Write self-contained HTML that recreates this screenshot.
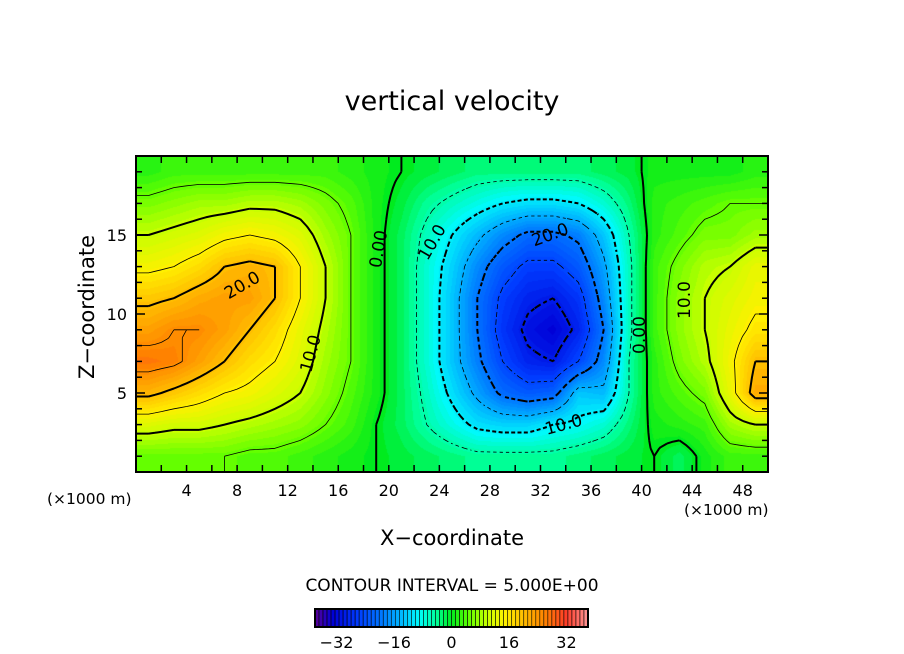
<!DOCTYPE html>
<html><head><meta charset="utf-8"><style>
body{margin:0;background:#fff;width:904px;height:654px;overflow:hidden;position:relative;font-family:"DejaVu Sans","Liberation Sans",sans-serif;}
.t{position:absolute;color:#000;white-space:nowrap}
</style></head><body>
<div class="t" style="left:0;width:904px;text-align:center;top:86px;font-size:27px;">vertical velocity</div>
<div class="t" style="left:22px;top:302px;font-size:21px;transform:rotate(-90deg);width:130px;text-align:center;">Z−coordinate</div>
<div class="t" style="left:0;width:904px;text-align:center;top:526px;font-size:21px;">X−coordinate</div>
<div class="t" style="left:47px;top:490px;font-size:15.5px;">(×1000 m)</div>
<div class="t" style="left:684px;top:501px;font-size:15.5px;">(×1000 m)</div>
<div class="t" style="left:0;width:904px;text-align:center;top:576px;font-size:17px;">CONTOUR INTERVAL = 5.000E+00</div>
<canvas id="cv" width="632" height="316" style="position:absolute;left:136px;top:156px"></canvas>
<svg id="ov" width="904" height="654" style="position:absolute;left:0;top:0"></svg>
<script>
const xCenters=[1,3,5,7,9,11,13,15,17,19,21,23,25,27,29,31,33,35,37,39,41,43,45,47,49];
const zCenters=[19,17,15,13,11,9,7,5,3,1];
const row19=[2,3,3,3,3,3,3,3,2,1,0,-1,-2,-3,-3,-3,-3,-3,-2,-1,1,1,1,1,2];
const row17=[6,7,8,8,9,9,8,6,4,1,-1,-4,-6,-8,-10,-11,-11,-10,-7,-3,2,3,4,5,5];
const row15=[10,11,12,14,15,14,12,8,5,1,-2,-6,-10,-14,-18,-21,-21,-19,-13,-5,2,4,6,6,8];
const row13=[14,15,17,20,21,20,15,10,5,1,-2,-7,-12,-18,-23,-26,-26,-23,-16,-6,3,6,9,10,13];
const row11=[19,20,22,23,23,20,15,10,5,1,-2,-7,-13,-20,-26,-29,-30,-27,-18,-6,3,7,10,12,14];
const row9=[23,25,25,23,20,17,13,9,5,1,-2,-7,-13,-20,-27,-31,-33,-29,-20,-6,3,7,10,13,16];
const row7=[27,26,23,20,17,15,12,8,5,1,-2,-7,-13,-19,-25,-29,-30,-25,-18,-5,2,6,9,14,20];
const row5=[21,19,17,15,14,12,10,7,4,1,-2,-6,-11,-16,-21,-23,-22,-13,-14,-5,2,4,6,13,22];
const row3=[12,11,11,10,9,8,7,5,3,0,-2,-5,-8,-11,-12,-12,-10,-9,-7,-3,1,2,3,8,10];
const row1=[5,5,5,5,4,4,3,2,1,0,-1,-2,-3,-4,-4,-4,-4,-3,-2,-1,0,-2,1,3,3];
const grid=[row19,row17,row15,row13,row11,row9,row7,row5,row3,row1];
const xTicks=[4,8,12,16,20,24,28,32,36,40,44,48];
const zTicks=[5,10,15];
const cbTicks=[-32,-16,0,16,32];
const levels=[-30,-25,-20,-15,-10,-5,0,5,10,15,20,25];

const X0=136,X1=768,Y0=156,Y1=472;
const sx=x=>X0+(x/50)*(X1-X0), sz=z=>Y1-(z/20)*(Y1-Y0);
const stops=[[-38,[90,0,150]],[-33,[0,0,215]],[-26,[0,60,255]],[-20,[0,115,255]],[-14,[0,185,255]],[-9,[0,250,250]],[-4,[0,255,150]],[0,[0,235,30]],[5,[100,255,0]],[10,[200,255,0]],[15,[255,240,0]],[20,[255,190,0]],[26,[255,130,0]],[32,[255,60,40]],[38,[255,150,150]]];
function col(v){if(v<=stops[0][0])return stops[0][1];for(let i=1;i<stops.length;i++){if(v<=stops[i][0]){const a=stops[i-1],b=stops[i],t=(v-a[0])/(b[0]-a[0]);return a[1].map((c,k)=>Math.round(c+(b[1][k]-c)*t));}}return stops[stops.length-1][1];}
function val(x,z){
  let fx=(x-1)/2,fz=(19-z)/2;
  fx=Math.max(0,Math.min(xCenters.length-1,fx));fz=Math.max(0,Math.min(zCenters.length-1,fz));
  const i=Math.min(Math.floor(fx),xCenters.length-2),j=Math.min(Math.floor(fz),zCenters.length-2);
  const tx=fx-i,tz=fz-j;
  return grid[j][i]*(1-tx)*(1-tz)+grid[j][i+1]*tx*(1-tz)+grid[j+1][i]*(1-tx)*tz+grid[j+1][i+1]*tx*tz;
}
const cv=document.getElementById('cv'),ctx=cv.getContext('2d'),img=ctx.createImageData(632,316);
for(let py=0;py<316;py++)for(let px=0;px<632;px++){
  const x=(px+0.5)/632*50,z=20-(py+0.5)/316*20;const v=Math.round(val(x,z));const c=col(v);const o=(py*632+px)*4;
  img.data[o]=c[0];img.data[o+1]=c[1];img.data[o+2]=c[2];img.data[o+3]=255;}
ctx.putImageData(img,0,0);

const NS='http://www.w3.org/2000/svg',ov=document.getElementById('ov');
function mk(tag,attrs,parent){const e=document.createElementNS(NS,tag);for(const k in attrs)e.setAttribute(k,attrs[k]);(parent||ov).appendChild(e);return e;}
const N=100,M=40;const fv=[];
for(let j=0;j<=M;j++){fv.push([]);for(let i=0;i<=N;i++)fv[j].push(val(i/N*50,20-j/M*20));}
levels.forEach(L=>{
  let d='';
  for(let j=0;j<M;j++)for(let i=0;i<N;i++){
    const a=fv[j][i],b=fv[j][i+1],c=fv[j+1][i+1],e=fv[j+1][i];
    const pts=[];
    const ed=(v1,v2,x1,y1,x2,y2)=>{if((v1<L)!==(v2<L)){const t=(L-v1)/(v2-v1);pts.push([x1+(x2-x1)*t,y1+(y2-y1)*t]);}};
    ed(a,b,i,j,i+1,j);ed(b,c,i+1,j,i+1,j+1);ed(c,e,i+1,j+1,i,j+1);ed(e,a,i,j+1,i,j);
    for(let k=0;k+1<pts.length;k+=2){const p=pts[k],q=pts[k+1];
      d+='M'+(X0+p[0]/N*632).toFixed(1)+' '+(Y0+p[1]/M*316).toFixed(1)+'L'+(X0+q[0]/N*632).toFixed(1)+' '+(Y0+q[1]/M*316).toFixed(1);}
  }
  const thick=(L%10===0);
  const at={d:d,fill:'none',stroke:'#000','stroke-width':thick?2:0.8};
  if(L<0)at['stroke-dasharray']=thick?'4 3':'3 3';
  const p=mk('path',at);
  
  
});
mk('rect',{x:X0,y:Y0,width:X1-X0,height:Y1-Y0,fill:'none',stroke:'#000','stroke-width':2,});
for(let x=2;x<50;x+=2){mk('line',{x1:sx(x),x2:sx(x),y1:Y0,y2:Y0+7,stroke:'#000','stroke-width':1.5});mk('line',{x1:sx(x),x2:sx(x),y1:Y1,y2:Y1-7,stroke:'#000','stroke-width':1.5});}
for(let z=1;z<20;z++){const l=z%5===0?9:6;mk('line',{x1:X0,x2:X0+l,y1:sz(z),y2:sz(z),stroke:'#000','stroke-width':1.5});mk('line',{x1:X1,x2:X1-l,y1:sz(z),y2:sz(z),stroke:'#000','stroke-width':1.5});}
xTicks.forEach(x=>{const t=mk('text',{x:sx(x),y:496,'text-anchor':'middle','font-size':16,'font-family':'DejaVu Sans, sans-serif'});t.textContent=x;

});
zTicks.forEach(z=>{const t=mk('text',{x:127,y:sz(z)+6,'text-anchor':'end','font-size':16,'font-family':'DejaVu Sans, sans-serif'});t.textContent=z;

});
const C0=315,C1=588,CY=609,CH=18,vmin=-38,vmax=38,nb=68;
const cs=v=>C0+(v-vmin)/(vmax-vmin)*(C1-C0);
for(let k=0;k<nb;k++){const v0=vmin+k*(vmax-vmin)/nb,v1=vmin+(k+1)*(vmax-vmin)/nb;const c=col((v0+v1)/2);
 const r=mk('rect',{x:cs(v0),y:CY,width:cs(v1)-cs(v0),height:CH,fill:'rgb('+c.join(',')+')',stroke:'#000','stroke-width':0.6});
 
 }
mk('rect',{x:C0,y:CY,width:C1-C0,height:CH,fill:'none',stroke:'#000','stroke-width':2,});
cbTicks.forEach(v=>{const t=mk('text',{x:cs(v),y:648,'text-anchor':'middle','font-size':16,'font-family':'DejaVu Sans, sans-serif'});t.textContent=(v<0?'−':'')+Math.abs(v);

});
[[245,290,'20.0',-30],[316,355,'10.0',-75],[384,250,'0.00',-80],[437,245,'10.0',-60],[552,240,'20.0',-20],[565,430,'10.0',-15],[645,335,'0.00',-90],[690,300,'10.0',-90]].forEach(a=>{
 const t=mk('text',{x:a[0],y:a[1],'text-anchor':'middle','font-size':17,'font-family':'DejaVu Sans, sans-serif',transform:'rotate('+a[3]+' '+a[0]+' '+a[1]+')'});t.textContent=a[2];
 
 });
</script>
</body></html>
